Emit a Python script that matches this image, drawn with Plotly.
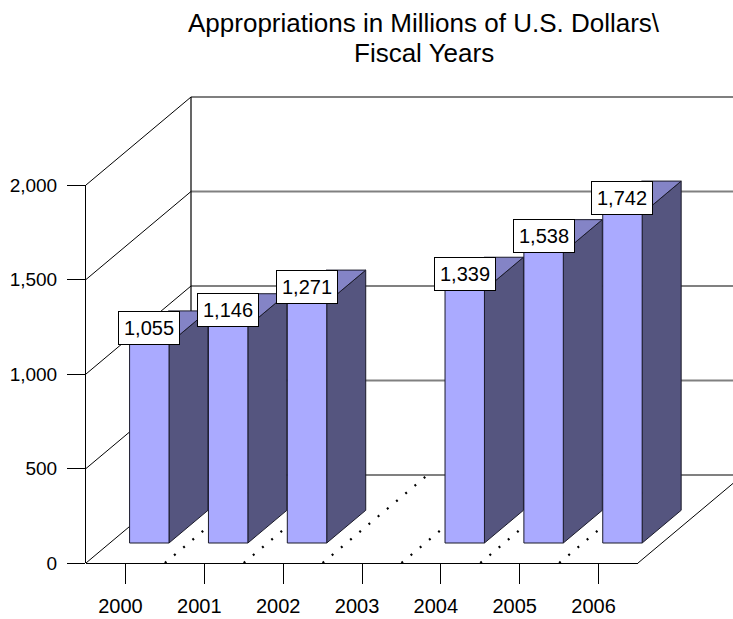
import plotly.graph_objects as go

# ---------------- data ----------------
years = ["2000", "2001", "2002", "2003", "2004", "2005", "2006"]
appropriations = [1055, 1146, 1271, None, 1339, 1538, 1742]
y_ticks = [0, 500, 1000, 1500, 2000]
y_tick_text = ["0", "500", "1,000", "1,500", "2,000"]
title_lines = ["Appropriations in Millions of U.S. Dollars\\", "Fiscal Years"]

# ---------------- geometry (pixel calibrated) ----------------
W, H = 733, 619
X0_PX, Y0_PX = 86, 563          # front-left-bottom corner of the box
CAT_PX = 78.86                  # px per category slot
VAL_PX = 0.189                  # px per value unit
DEPTH_DX, DEPTH_DY = 105, 88    # px shift of the full depth
VMAX = 2000
N = len(years)

DX_U = DEPTH_DX / CAT_PX
DY_U = DEPTH_DY / VAL_PX

BAR_W = 0.5
D_FRONT = 20 / DEPTH_DY
D_BACK = D_FRONT + 39 / DEPTH_DX


def P(u, v, d):
    return u + DX_U * d, v + DY_U * d


fig = go.Figure()


def add_line(pts, color, width, dash="solid"):
    xs, ys = zip(*[P(*p) for p in pts])
    fig.add_trace(go.Scatter(x=list(xs), y=list(ys), mode="lines",
                             line=dict(color=color, width=width, dash=dash),
                             hoverinfo="skip", showlegend=False,
                             xaxis="x", yaxis="y"))


def add_poly(pts, fill, line_color="#1a1a2a", lw=1):
    pts = list(pts) + [pts[0]]
    xs, ys = zip(*[P(*p) for p in pts])
    fig.add_trace(go.Scatter(x=list(xs), y=list(ys), mode="lines", fill="toself",
                             fillcolor=fill, line=dict(color=line_color, width=lw),
                             hoverinfo="skip", showlegend=False,
                             xaxis="x", yaxis="y"))


for t in y_ticks:
    if t < VMAX:
        add_line([(0, t, 1), (N + 2, t, 1)], "#808080", 2)
    add_line([(0, t, 0), (0, t, 1)], "#000000", 1)
add_line([(0, VMAX, 1), (N + 2, VMAX, 1)], "#000000", 1.2)
add_line([(0, 0, 1), (0, VMAX, 1)], "#000000", 1.2)
add_line([(N, 0, 0), (N, 0, 1)], "#000000", 1)

for i in range(1, N):
    add_line([(i, 0, 0), (i, 0, 1)], "#000000", 2.2, dash="2px,10px")

FRONT_C, SIDE_C, TOP_C = "#AAAAFF", "#55557F", "#8484C6"
for i, v in enumerate(appropriations):
    if v is None:
        continue
    u0 = i + 0.5 - BAR_W / 2
    u1 = i + 0.5 + BAR_W / 2
    add_poly([(u1, 0, D_FRONT), (u1, 0, D_BACK), (u1, v, D_BACK), (u1, v, D_FRONT)], SIDE_C)
    add_poly([(u0, v, D_FRONT), (u1, v, D_FRONT), (u1, v, D_BACK), (u0, v, D_BACK)], TOP_C)
    add_poly([(u0, 0, D_FRONT), (u1, 0, D_FRONT), (u1, v, D_FRONT), (u0, v, D_FRONT)], FRONT_C)

for i, v in enumerate(appropriations):
    if v is None:
        continue
    x, y = P(i + 0.5, v, D_FRONT)
    fig.add_annotation(x=x, y=y, xref="x", yref="y", text=f"{v:,}",
                       showarrow=False, xanchor="center", yanchor="bottom",
                       font=dict(family="Liberation Sans, Arial", size=20, color="#000"),
                       bgcolor="#FFFFFF", bordercolor="#000000", borderwidth=1,
                       borderpad=5, yshift=-1)

fig.add_trace(go.Scatter(x=[0], y=[0], mode="markers", marker=dict(opacity=0),
                         hoverinfo="skip", showlegend=False, xaxis="x2", yaxis="y2"))
fig.add_trace(go.Scatter(x=years, y=[0] * N, mode="markers", marker=dict(opacity=0),
                         hoverinfo="skip", showlegend=False, xaxis="x3", yaxis="y3"))

x_rng = [-X0_PX / CAT_PX, (W - X0_PX) / CAT_PX]
y_rng = [(Y0_PX - H) / VAL_PX, Y0_PX / VAL_PX]

front_top_px = Y0_PX - VMAX * VAL_PX
y2_dom = [(H - Y0_PX) / H, (H - front_top_px) / H]
x_front_end = X0_PX + N * CAT_PX

axis_font = dict(family="Liberation Sans, Arial", size=19, color="#000")
x_font = dict(family="Liberation Sans, Arial", size=20, color="#000")

# title: two lines, placed separately to match the reference line spacing
for line, yc in zip(title_lines, [23, 53]):
    fig.add_annotation(x=424 / W, y=1 - yc / H, xref="paper", yref="paper",
                       text=line, showarrow=False, xanchor="center", yanchor="middle",
                       font=dict(family="Liberation Sans, Arial", size=26, color="#000"))

fig.update_layout(
    width=W, height=H, autosize=False,
    margin=dict(l=0, r=0, t=0, b=0, pad=0, autoexpand=False),
    paper_bgcolor="white", plot_bgcolor="rgba(0,0,0,0)",
    showlegend=False,
    xaxis=dict(domain=[0, 1], range=x_rng, visible=False, fixedrange=True, automargin=False),
    yaxis=dict(domain=[0, 1], range=y_rng, visible=False, fixedrange=True, automargin=False),
    xaxis2=dict(domain=[X0_PX / W, (X0_PX + 10) / W], range=[0, 1], visible=False,
                anchor="y2", automargin=False),
    yaxis2=dict(domain=y2_dom, range=[0, VMAX], anchor="x2", side="left",
                tickvals=y_ticks, ticktext=y_tick_text, ticks="outside", ticklen=18,
                tickcolor="#000", tickwidth=1, showline=True, linecolor="#000",
                linewidth=1, showgrid=False, zeroline=False, tickfont=axis_font,
                ticklabelstandoff=6, automargin=False),
    xaxis3=dict(domain=[X0_PX / W, x_front_end / W], range=[-0.5, N - 0.5],
                type="category", anchor="y3", ticks="outside", ticklen=20,
                tickcolor="#000", tickwidth=1, showline=True, linecolor="#000",
                linewidth=1, showgrid=False, zeroline=False, tickfont=x_font,
                ticklabelshift=-5, ticklabelstandoff=5, automargin=False),
    yaxis3=dict(domain=[(H - Y0_PX) / H, (H - Y0_PX + 10) / H], range=[0, 1],
                visible=False, anchor="x3", automargin=False),
)

fig.write_html("out.html", config={"displayModeBar": False},
               post_script="document.body.style.margin='0';")
